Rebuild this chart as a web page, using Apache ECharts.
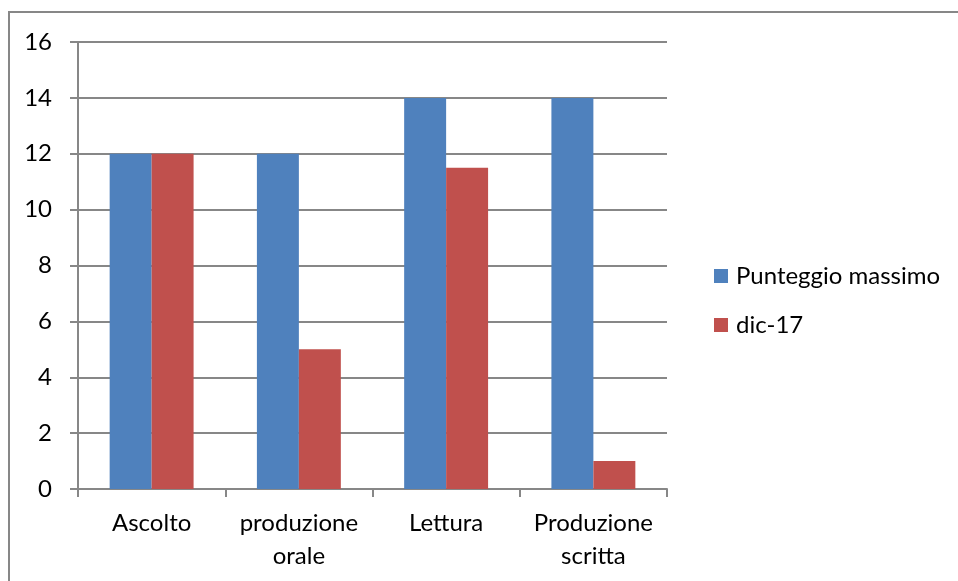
<!DOCTYPE html>
<html>
<head>
<meta charset="utf-8">
<script src="https://cdn.jsdelivr.net/npm/echarts@6/dist/echarts.min.js"></script>
<style>
  html, body { margin: 0; padding: 0; background: #fff; }
  #chart { width: 958px; height: 581px; }
</style>
</head>
<body>
<div id="chart"></div>
<script>
// Categories and series values
const categories = ['Ascolto', 'produzione\norale', 'Lettura', 'Produzione\nscritta'];
const punteggioMassimo = [12, 12, 14, 14];
const dic17 = [12, 5, 11.5, 1];
const seriesNames = ['Punteggio massimo', 'dic-17'];

const FONT = 'Lato';
const FONT_SIZE = 24;
const GRID_COLOR = '#878787';

const chart = echarts.init(document.getElementById('chart'), null, { renderer: 'canvas' });

chart.setOption({
  animation: false,
  backgroundColor: '#ffffff',
  graphic: [{
    type: 'rect',
    shape: { x: 9, y: 12, width: 980, height: 600 },
    style: { fill: 'none', stroke: GRID_COLOR, lineWidth: 2 },
    silent: true,
    z: -1
  }],
  grid: { left: 78, right: 291, top: 42, bottom: 92 },
  legend: {
    orient: 'vertical',
    left: 709,
    top: 257,
    itemWidth: 14,
    itemHeight: 14,
    itemGap: 21,
    icon: 'rect',
    data: seriesNames,
    textStyle: { fontFamily: FONT, fontSize: FONT_SIZE, color: '#000', lineHeight: 28, padding: [0, 0, 0, 3] }
  },
  xAxis: {
    type: 'category',
    data: categories,
    boundaryGap: true,
    axisLine: { lineStyle: { color: GRID_COLOR, width: 2 } },
    axisTick: { show: true, alignWithLabel: false, length: 8, lineStyle: { color: GRID_COLOR, width: 2 } },
    axisLabel: { fontFamily: FONT, fontSize: FONT_SIZE, color: '#000', margin: 18, lineHeight: 33, interval: 0 }
  },
  yAxis: {
    type: 'value',
    min: 0,
    max: 16,
    interval: 2,
    axisLine: { show: true, lineStyle: { color: GRID_COLOR, width: 2 } },
    axisTick: { show: true, length: 8, lineStyle: { color: GRID_COLOR, width: 2 } },
    axisLabel: { fontFamily: FONT, fontSize: FONT_SIZE, color: '#000', margin: 26 },
    splitLine: { lineStyle: { color: GRID_COLOR, width: 2 } }
  },
  series: [
    {
      name: seriesNames[0],
      type: 'bar',
      data: punteggioMassimo,
      barGap: '0%',
      barCategoryGap: '43%',
      itemStyle: { color: '#4F81BD' }
    },
    {
      name: seriesNames[1],
      type: 'bar',
      data: dic17,
      itemStyle: { color: '#C0504D' }
    }
  ]
});
</script>
</body>
</html>
